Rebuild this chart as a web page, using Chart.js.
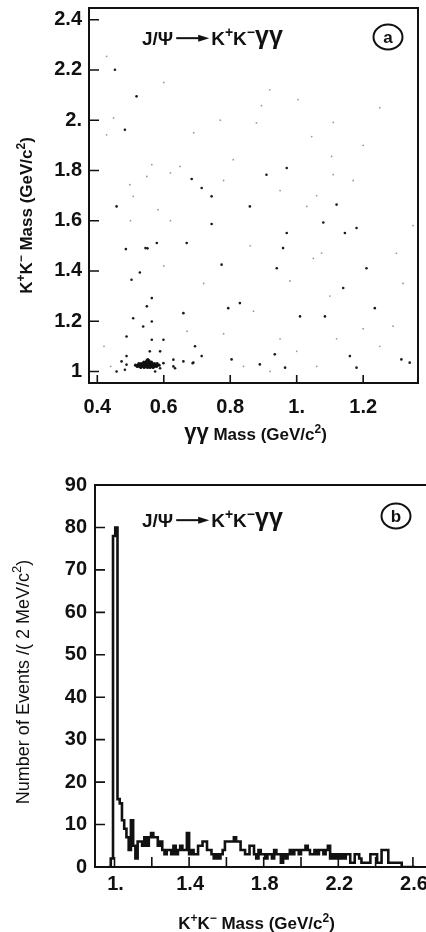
<!DOCTYPE html>
<html>
<head>
<meta charset="utf-8">
<script src="https://cdn.jsdelivr.net/npm/chart.js@4.4.1/dist/chart.umd.min.js"></script>
<style>
  body { margin: 0; background: #fff; width: 426px; height: 932px; overflow: hidden; }
  .panel { position: absolute; left: 0; }
</style>
</head>
<body>
<div class="panel" style="top:0"><canvas id="graficoA" width="426" height="460"></canvas></div>
<div class="panel" style="top:460px"><canvas id="graficoB" width="426" height="472"></canvas></div>
<script>
// (a) dispersion: masa gamma-gamma (x) vs masa K+K- (y), GeV/c^2
const puntosX = [0.453, 0.518, 0.483, 0.970, 0.909, 0.684, 0.714, 0.744, 0.458, 0.859, 1.120, 0.744, 0.970, 1.080, 1.180, 1.145,
  0.545, 0.551, 0.486, 0.579, 0.669, 0.959, 0.774, 0.940, 0.528, 0.503, 1.210, 1.140, 0.564, 0.549, 0.659, 0.794, 0.829, 1.010,
  1.085, 1.235, 0.508, 0.564, 0.538, 0.564, 0.599, 0.488, 0.694, 0.558, 0.589, 0.488, 0.714, 0.804, 0.934, 1.160, 1.315, 1.340,
  0.889, 0.965, 0.629, 0.659, 0.689, 0.483, 1.180, 0.473, 0.488, 0.458, 0.574, 0.589, 0.599, 0.629, 0.634, 0.687];
const puntosY = [2.201, 2.095, 1.962, 1.810, 1.783, 1.766, 1.730, 1.697, 1.657, 1.657, 1.664, 1.587, 1.551, 1.593, 1.571, 1.551,
  1.491, 1.490, 1.487, 1.511, 1.511, 1.491, 1.425, 1.411, 1.394, 1.365, 1.411, 1.332, 1.292, 1.259, 1.232, 1.252, 1.272, 1.219,
  1.219, 1.252, 1.212, 1.199, 1.179, 1.126, 1.126, 1.139, 1.100, 1.080, 1.080, 1.061, 1.061, 1.048, 1.068, 1.061, 1.048, 1.035,
  1.028, 1.015, 1.020, 1.040, 1.035, 1.007, 1.015, 1.040, 1.027, 1.000, 1.000, 1.013, 1.033, 1.047, 1.013, 1.033];

// puntos tenues (grises) del escaneo
const tenuesX = [0.428, 0.919, 0.894, 1.004, 0.879, 1.045, 1.110, 1.105, 0.649, 0.564, 0.498, 0.549, 0.508, 0.583, 1.030, 1.110,
  0.809, 0.428, 0.449, 0.620, 0.780, 0.950, 1.060, 1.170, 0.690, 0.770, 1.200, 0.600, 1.250, 1.350, 1.075, 0.620, 0.500, 0.860,
  1.050, 1.300, 0.720, 0.980, 1.100, 1.320, 0.600, 0.870, 1.200, 1.290, 1.120, 0.780, 0.950, 1.000, 1.250, 1.060, 0.840, 0.920,
  0.440, 0.420, 0.670];
const tenuesY = [2.254, 2.121, 2.058, 2.082, 1.989, 1.935, 1.991, 1.856, 1.816, 1.823, 1.743, 1.776, 1.697, 1.644, 1.657, 1.783,
  1.843, 1.942, 2.009, 1.790, 1.760, 1.720, 1.700, 1.760, 1.950, 2.000, 1.900, 2.150, 2.050, 1.580, 1.471, 1.600, 1.600, 1.500,
  1.450, 1.470, 1.350, 1.360, 1.300, 1.350, 1.420, 1.240, 1.170, 1.180, 1.130, 1.150, 1.130, 1.080, 1.100, 1.020, 1.020, 1.000,
  1.020, 1.100, 1.160];

// nube eta-phi
const nubeX = [0.515, 0.522, 0.528, 0.533, 0.538, 0.542, 0.546, 0.550, 0.554, 0.558, 0.562, 0.566, 0.570, 0.575, 0.580, 0.586,
  0.520, 0.527, 0.535, 0.540, 0.545, 0.549, 0.553, 0.557, 0.561, 0.565, 0.571, 0.578,
  0.525, 0.532, 0.539, 0.544, 0.548, 0.552, 0.556, 0.560, 0.565, 0.572, 0.580,
  0.531, 0.541, 0.551, 0.559, 0.568, 0.540, 0.547, 0.553, 0.558, 0.563, 0.549, 0.555, 0.552];
const nubeY = [1.025, 1.025, 1.025, 1.025, 1.025, 1.025, 1.025, 1.025, 1.025, 1.025, 1.025, 1.025, 1.025, 1.025, 1.025, 1.025,
  1.020, 1.020, 1.020, 1.020, 1.020, 1.020, 1.020, 1.020, 1.020, 1.020, 1.020, 1.020,
  1.031, 1.031, 1.031, 1.031, 1.031, 1.031, 1.031, 1.031, 1.031, 1.031, 1.031,
  1.016, 1.016, 1.016, 1.016, 1.016, 1.037, 1.037, 1.037, 1.037, 1.037, 1.043, 1.043, 1.047];

const ticksXa = [0.4, 0.6, 0.8, 1.0, 1.2];
const etiquetasXa = ['0.4', '0.6', '0.8', '1.', '1.2'];
const ticksYa = [1.0, 1.2, 1.4, 1.6, 1.8, 2.0, 2.2, 2.4];
const etiquetasYa = ['1', '1.2', '1.4', '1.6', '1.8', '2.', '2.2', '2.4'];

// (b) histograma masa K+K-
const primerBorde = 0.968;
const anchoBin = 0.012;
const eventos = [0, 2, 78, 80, 16, 15, 11, 9, 7, 4, 11, 5, 2, 6, 6, 5, 7, 5, 7, 8,
  7, 7, 5, 6, 4, 3, 4, 4, 3, 5, 3, 4, 5, 4, 4, 8, 3, 4, 3, 3,
  5, 5, 6, 6, 4, 4, 3, 2, 3, 2, 3, 4, 6, 6, 6, 6, 7, 6, 6, 4,
  4, 3, 3, 5, 5, 3, 2, 4, 3, 3, 2, 3, 3, 2, 4, 3, 3, 1, 3, 2,
  3, 4, 3, 4, 4, 3, 4, 4, 5, 4, 3, 3, 4, 3, 4, 4, 3, 4, 5, 2,
  3, 2, 3, 2, 3, 2, 3, 3, 1, 1, 3, 3, 2, 1, 1, 1, 1, 3, 3, 3,
  1, 1, 4, 4, 4, 1, 1, 1, 1, 1, 1, 0, 0, 0, 0, 0, 0];
const ticksXb = [1.0, 1.2, 1.4, 1.6, 1.8, 2.0, 2.2, 2.4, 2.6];
const etiquetasXb = ['1.', '', '1.4', '', '1.8', '', '2.2', '', '2.6'];
const ticksYb = [0, 10, 20, 30, 40, 50, 60, 70, 80, 90];
const etiquetasYb = ['0', '10', '20', '30', '40', '50', '60', '70', '80', '90'];

const FUENTE = '"Liberation Sans", Arial, sans-serif';
const NEGRO = '#111';

// texto con superindices: '^+' = superindice, '~' = letra grande (gammas), '->' = flecha
function textoRico(ctx, partes, x, y, size, peso, alineado) {
  const fN = `${peso} ${size}px ${FUENTE}`;
  const fS = `${peso} ${Math.round(size * 0.72)}px ${FUENTE}`;
  const fG = `bold ${Math.round(size * 1.3)}px ${FUENTE}`;
  const largoFlecha = size * 2.0;
  const fuenteDe = p => p[0] === '^' ? fS : (p[0] === '~' ? fG : fN);
  const textoDe = p => (p[0] === '^' || p[0] === '~') ? p.slice(1) : p;
  let ancho = 0;
  partes.forEach(p => {
    if (p === '->') { ancho += largoFlecha; return; }
    ctx.font = fuenteDe(p);
    ancho += ctx.measureText(textoDe(p)).width;
  });
  let cx = alineado === 'center' ? x - ancho / 2 : x;
  ctx.textAlign = 'left';
  ctx.textBaseline = 'alphabetic';
  partes.forEach(p => {
    if (p === '->') {
      const ym = y - size * 0.36;
      ctx.lineWidth = 2;
      ctx.beginPath();
      ctx.moveTo(cx + 3, ym);
      ctx.lineTo(cx + largoFlecha - 10, ym);
      ctx.stroke();
      ctx.beginPath();
      ctx.moveTo(cx + largoFlecha - 2, ym);
      ctx.lineTo(cx + largoFlecha - 13, ym - 3.5);
      ctx.lineTo(cx + largoFlecha - 13, ym + 3.5);
      ctx.closePath();
      ctx.fill();
      cx += largoFlecha;
      return;
    }
    ctx.font = fuenteDe(p);
    const t = textoDe(p);
    let dy = 0;
    if (p[0] === '^') dy = -size * 0.42;
    if (p[0] === '~') dy = -size * 0.04;
    ctx.fillText(t, cx, y + dy);
    cx += ctx.measureText(t).width;
  });
}

// marco, ticks hacia adentro, titulos y anotaciones
const marco = {
  id: 'marco',
  afterDraw(chart, args, o) {
    const { ctx, chartArea: a, scales } = chart;
    ctx.save();
    ctx.strokeStyle = NEGRO;
    ctx.fillStyle = NEGRO;
    ctx.lineWidth = 2;
    ctx.beginPath();
    ctx.moveTo(a.right, a.top);
    ctx.lineTo(a.left, a.top);
    ctx.lineTo(a.left, a.bottom);
    ctx.lineTo(a.right, a.bottom);
    if (o.cerrado) ctx.closePath();
    ctx.stroke();

    ctx.lineWidth = 1.6;
    ctx.beginPath();
    scales.x.ticks.forEach(t => {
      const px = scales.x.getPixelForValue(t.value);
      ctx.moveTo(px, a.bottom);
      ctx.lineTo(px, a.bottom - o.largoX);
    });
    scales.y.ticks.forEach(t => {
      const py = scales.y.getPixelForValue(t.value);
      ctx.moveTo(a.left, py);
      ctx.lineTo(a.left + o.largoY, py);
    });
    ctx.stroke();

    // titulos de ejes
    const cxArea = (a.left + a.right) / 2;
    textoRico(ctx, o.tituloX, cxArea + o.dxTituloX, o.yTituloX, 17, 'bold', 'center');
    ctx.save();
    ctx.translate(o.xTituloY, (a.top + a.bottom) / 2 + o.dyTituloY);
    ctx.rotate(-Math.PI / 2);
    textoRico(ctx, o.tituloY, 0, 0, o.sizeTituloY, o.pesoTituloY, 'center');
    ctx.restore();

    // reaccion
    textoRico(ctx, ['J/\u03A8', '->', 'K', '^+', 'K', '^\u2212', '~\u03B3\u03B3'], o.reaccion[0], o.reaccion[1], 19, 'bold', 'left');

    // letra en circulo
    ctx.lineWidth = 2;
    ctx.beginPath();
    ctx.ellipse(o.circulo[0], o.circulo[1], 14.5, 12.5, 0, 0, Math.PI * 2);
    ctx.stroke();
    ctx.font = `bold 17px ${FUENTE}`;
    ctx.textAlign = 'center';
    ctx.textBaseline = 'middle';
    ctx.fillText(o.letra, o.circulo[0], o.circulo[1] + 1);
    ctx.restore();
  }
};

function ejeLineal(min, max, valores, etiquetas, ancho, alto, relleno, desplazamiento) {
  return {
    type: 'linear',
    min: min,
    max: max,
    grid: { display: false, drawTicks: false },
    border: { display: false },
    afterBuildTicks: s => { s.ticks = valores.map(v => ({ value: v })); },
    afterFit: s => {
      if (ancho !== null) s.width = ancho;
      if (alto !== null) s.height = alto;
      s.paddingLeft = 0; s.paddingRight = 0; s.paddingTop = 0; s.paddingBottom = 0;
    },
    ticks: {
      autoSkip: false,
      maxRotation: 0,
      padding: relleno,
      labelOffset: desplazamiento,
      color: NEGRO,
      font: { family: FUENTE, size: 20, weight: 'bold' },
      callback: (v, i) => etiquetas[i]
    }
  };
}

// grafico (a)
new Chart(document.getElementById('graficoA').getContext('2d'), {
  type: 'scatter',
  data: {
    datasets: [
      { data: tenuesX.map((x, i) => ({ x: x, y: tenuesY[i] })), backgroundColor: '#9a9a9a', pointRadius: 0.9, pointBorderWidth: 0 },
      { data: puntosX.map((x, i) => ({ x: x, y: puntosY[i] })), backgroundColor: '#1a1a1a', pointRadius: 1.3, pointBorderWidth: 0 },
      { data: nubeX.map((x, i) => ({ x: x, y: nubeY[i] })), backgroundColor: '#111', pointRadius: 1.6, pointBorderWidth: 0 }
    ]
  },
  options: {
    responsive: false,
    animation: false,
    events: [],
    layout: { padding: { left: 0, right: 8, top: 8, bottom: 0 } },
    plugins: {
      legend: { display: false },
      tooltip: { enabled: false },
      marco: {
        cerrado: true, largoX: 8, largoY: 10,
        tituloX: ['~\u03B3\u03B3', ' Mass (GeV/c', '^2', ')'], dxTituloX: 2, yTituloX: 440,
        tituloY: ['K', '^+', 'K', '^\u2212', ' Mass (GeV/c', '^2', ')'], xTituloY: 32, dyTituloY: 20, sizeTituloY: 17, pesoTituloY: 'bold',
        reaccion: [142, 45], circulo: [388, 37], letra: 'a'
      }
    },
    scales: {
      x: ejeLineal(0.375, 1.365, ticksXa, etiquetasXa, null, 77, 12, 0),
      y: ejeLineal(0.954, 2.4466, ticksYa, etiquetasYa, 89, null, 7, 0)
    }
  },
  plugins: [marco]
});

// grafico (b)
const bordes = eventos.map((v, k) => primerBorde + k * anchoBin);
const puntosHisto = eventos.map((v, k) => ({ x: bordes[k], y: v }));
puntosHisto.push({ x: primerBorde + eventos.length * anchoBin, y: 0 });

new Chart(document.getElementById('graficoB').getContext('2d'), {
  type: 'line',
  data: {
    datasets: [{
      data: puntosHisto,
      stepped: true,
      borderColor: NEGRO,
      borderWidth: 2.6,
      pointRadius: 0,
      fill: false
    }]
  },
  options: {
    responsive: false,
    animation: false,
    events: [],
    layout: { padding: { left: 0, right: 0, top: 25, bottom: 0 } },
    plugins: {
      legend: { display: false },
      tooltip: { enabled: false },
      marco: {
        cerrado: false, largoX: 10, largoY: 10,
        tituloX: ['K', '^+', 'K', '^\u2212', ' Mass (GeV/c', '^2', ')'], dxTituloX: -4, yTituloX: 469,
        tituloY: ['Number of Events /( 2 MeV/c', '^2', ')'], xTituloY: 29, dyTituloY: 6, sizeTituloY: 18, pesoTituloY: 'normal',
        reaccion: [142, 67], circulo: [396, 56], letra: 'b'
      }
    },
    scales: {
      x: ejeLineal(0.8954, 2.6702, ticksXb, etiquetasXb, null, 65, 5, 1),
      y: ejeLineal(0, 90, ticksYb, etiquetasYb, 95, null, 8, 0)
    }
  },
  plugins: [marco]
});
</script>
</body>
</html>
